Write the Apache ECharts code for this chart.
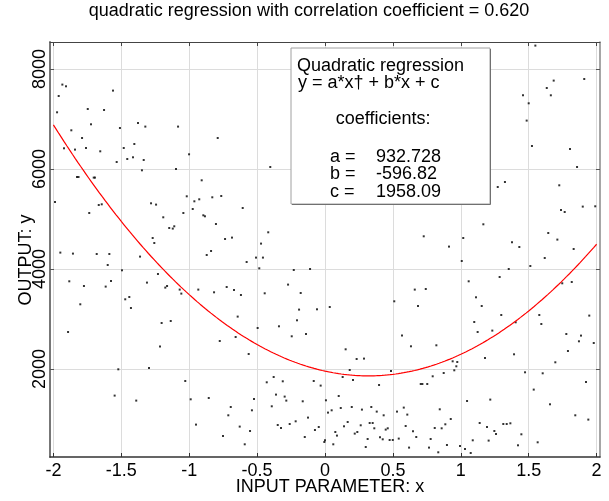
<!DOCTYPE html>
<html>
<head>
<meta charset="utf-8">
<script src="https://cdn.jsdelivr.net/npm/echarts@6/dist/echarts.min.js"></script>
<style>
  html, body { margin: 0; padding: 0; background: #fff; }
  #chart { width: 609px; height: 501px; }
</style>
</head>
<body>
<div id="chart"></div>
<script>
// Tick positions
const xTicks = [-2, -1.5, -1, -0.5, 0, 0.5, 1, 1.5, 2];
const yTicks = [2000, 4000, 6000, 8000];

// Observations: input parameter x and output y
const xs = [
  -1.934, -1.907, -1.961, -1.561, -1.973, -1.747, -1.627, -1.723, -1.377, -1.323,
  -1.082, -1.510, -1.868, -1.789, -1.404, -1.922, -1.841, -1.760, -1.655, -1.482,
  -1.456, -1.414, -1.335, -1.534, -1.001, -1.348, -1.097, -1.826, -1.815, -1.703,
  -1.694, -0.790, -0.403, -0.908, 1.549, 1.909, 1.684, 1.633, 1.458, 1.663,
  1.500, 1.485, 1.524, 1.804, 1.856, 1.325, 1.272, 1.725, -1.988, -1.736,
  -1.666, -1.644, -1.281, -1.244, -1.018, -0.962, -0.974, -0.926, -1.043, -1.191,
  -1.147, -1.121, -1.110, -1.269, -1.257, -1.949, -1.856, -1.681, -1.588, -1.362,
  -1.600, -1.495, -1.230, -1.883, -1.576, -1.311, -1.176, -1.775, -1.615, -1.163,
  -1.070, -1.058, -0.933, -1.471, -1.441, -1.429, -1.802, -1.203, -1.136, -1.892,
  -0.830, -0.764, -0.896, -0.884, -0.606, -0.803, -0.736, -0.685, -0.418, -0.471,
  -0.839, -0.871, -0.508, -0.457, -0.577, -0.484, -0.230, -0.110, -0.272, -0.817,
  -0.724, -0.670, -0.619, -0.444, -0.179, -0.191, -0.059, 0.035, 0.510, -0.643,
  -0.206, -0.496, -0.339, -0.140, -0.245, -0.658, 1.898, 1.990, 1.738, 1.765,
  1.166, 0.727, 1.018, 1.644, 1.711, 0.913, 1.377, 1.431, 1.831, 1.007,
  1.618, 1.512, 1.353, 1.286, 1.058, 1.747, 1.817, 0.661, 0.742, 1.112,
  0.685, 1.154, 1.298, 1.578, 1.946, 1.099, 1.404, 1.593, 1.124, 1.232,
  1.777, 1.885, 0.567, -1.215, -1.296, -1.522, -1.029, -1.549, -1.390, -0.989,
  -0.950, -0.775, -0.562, 0.152, 0.233, 0.287, 0.182, 0.486, 0.130, 0.206,
  -0.378, -0.429, -0.311, -0.083, -0.032, 0.398, -0.856, -0.361, -0.297, -0.285,
  -0.164, -0.523, 0.101, 0.007, -0.694, -0.392, -0.538, -0.712, 0.197, 0.272,
  0.341, 0.116, 0.049, 0.022, 0.381, 0.432, 0.530, -0.125, -0.348, -0.324,
  -0.260, -0.216, 0.167, 0.140, 0.263, 0.329, 0.351, 0.363, 0.447, 0.462,
  -0.046, -0.074, -0.628, -0.552, 0.076, 0.088, 0.219, 0.238, -0.149, -0.751,
  0.314, 0.405, 0.425, 0.476, 0.499, 0.543, 0.000, -0.005, 0.061, -0.591,
  0.300, 1.870, 1.979, 0.633, 0.820, 1.789, 1.392, 1.178, 1.696, 0.940,
  0.974, 0.967, 0.952, 0.874, 0.793, 1.473, 1.603, 0.705, 0.717, 0.753,
  1.922, 1.537, 1.046, 1.217, 1.657, 0.580, 0.606, 0.845, 0.926, 0.886,
  0.859, 0.808, 1.843, 1.939, 1.139, 1.193, 1.313, 1.338, 1.365, 0.594,
  0.648, 1.247, 1.259, 1.446, 0.672, 0.778, 1.088, 1.205, 1.566, 0.898,
  1.421, 0.619, 0.766, 0.994, 1.031, 1.073, 0.834
];
const ys = [
  7688, 7654, 7460, 7568, 7134, 7200, 7180, 6894, 6920, 6848,
  6848, 6820, 6774, 6620, 6500, 6414, 6388, 6420, 6354, 6420,
  6200, 6234, 6180, 6140, 6294, 5974, 6000, 5840, 5840, 5828,
  5828, 6620, 6040, 5774, 8468, 7800, 7768, 7620, 7474, 7474,
  7314, 6968, 6460, 6400, 6040, 5740, 5640, 5674, 5340, 5120,
  5280, 5294, 5314, 5288, 5454, 5354, 5200, 5394, 5120, 5034,
  4820, 4808, 4854, 4620, 4520, 4328, 4308, 4300, 4300, 4248,
  4080, 3974, 3900, 3754, 3760, 3728, 3628, 3660, 3648, 3660,
  3588, 3508, 3588, 3394, 3440, 3220, 3294, 2920, 2960, 2740,
  5434, 5460, 5074, 5054, 5220, 4900, 4600, 4628, 4734, 4508,
  4360, 4280, 4228, 4228, 4140, 4014, 3980, 4000, 3688, 3534,
  3640, 3580, 3480, 3514, 3520, 3188, 3194, 3240, 3354, 3048,
  2974, 2820, 2854, 2700, 2654, 2640, 5248, 5254, 5180, 5140,
  4894, 4654, 4620, 4720, 4588, 4448, 4534, 4440, 4400, 4160,
  4220, 4060, 4000, 3840, 3754, 3714, 3740, 3588, 3600, 3434,
  3260, 3260, 3080, 3080, 3068, 2940, 2934, 2900, 2740, 2768,
  2700, 2668, 2668, 2448, 2020, 1994, 1760, 1468, 1368, 1394,
  888, 2560, 2300, 2394, 2200, 2208, 1980, 1960, 1840, 1780,
  1840, 1734, 1754, 1760, 1668, 1680, 1420, 1488, 1448, 1368,
  1354, 1400, 1460, 1374, 1240, 1254, 1174, 1074, 1240, 1188,
  1240, 1220, 1174, 1128, 1148, 1074, 1148, 1028, 880, 820,
  900, 954, 940, 854, 874, 920, 920, 814, 788, 814,
  840, 780, 848, 760, 740, 668, 708, 740, 640, 660,
  600, 634, 594, 580, 580, 608, 574, 540, 494, 494,
  440, 2554, 2520, 2454, 2474, 2360, 2294, 2220, 2134, 2154,
  2140, 2054, 1974, 1920, 1854, 1934, 1914, 1700, 1700, 1700,
  1740, 1588, 1360, 1388, 1294, 1228, 1088, 1194, 1000, 894,
  814, 820, 1074, 988, 920, 840, 900, 900, 914, 860,
  754, 760, 700, 694, 640, 600, 574, 568, 534, 480,
  474, 428, 428, 460, 400, 320, 334
];

// Fitted quadratic y = a*x^2 + b*x + c
const coefNames = ['a', 'b', 'c'];
const coefValues = [932.728, -596.82, 1958.09];
const coefLabels = ['932.728', '-596.82', '1958.09'];

const FONT = '"Liberation Sans", Arial, sans-serif';

const points = xs.map((x, i) => [x, ys[i]]);
const fitCurve = [];
for (let i = 0; i <= 200; i++) {
  const x = -2 + i * 0.02;
  fitCurve.push([x, coefValues[0] * x * x + coefValues[1] * x + coefValues[2]]);
}

const X_MIN = -2.025, X_MAX = 2.025, Y_MIN = 240, Y_MAX = 8540;

const chart = echarts.init(document.getElementById('chart'), null, { renderer: 'canvas' });

const legendText = (text, x, y) => ({
  type: 'text', z: 101, x: x, y: y,
  style: { text: text, fill: '#000', font: '18px ' + FONT, align: 'left', verticalAlign: 'middle' }
});

const coefRows = [];
coefNames.forEach((n, i) => {
  const y = 156.7 + i * 17.5;
  coefRows.push(legendText(n + ' =', 330, y));
  coefRows.push(legendText(coefLabels[i], 376, y));
});

chart.setOption({
  animation: false,
  backgroundColor: '#fff',
  grid: { left: 50, right: 9, top: 42, bottom: 44, containLabel: false },
  xAxis: [
    {
      type: 'value', min: X_MIN, max: X_MAX, position: 'bottom',
      axisLine: { show: true, onZero: false, lineStyle: { color: '#333', width: 1.5 } },
      axisTick: { show: true, inside: true, length: 4, customValues: xTicks, lineStyle: { color: '#333' } },
      axisLabel: { customValues: xTicks, formatter: v => String(v), fontSize: 18, fontFamily: FONT, color: '#000', margin: 5 },
      splitLine: { show: true, lineStyle: { color: '#dcdcdc', width: 1 } }
    },
    {
      type: 'value', min: X_MIN, max: X_MAX, position: 'top',
      axisLine: { show: true, onZero: false, lineStyle: { color: '#444', width: 1 } },
      axisTick: { show: true, inside: true, length: 4, customValues: xTicks, lineStyle: { color: '#444' } },
      axisLabel: { show: false },
      splitLine: { show: false }
    }
  ],
  yAxis: [
    {
      type: 'value', min: Y_MIN, max: Y_MAX, position: 'left',
      axisLine: { show: true, onZero: false, lineStyle: { color: '#777', width: 2 } },
      axisTick: { show: true, inside: true, length: 4, customValues: yTicks, lineStyle: { color: '#555' } },
      axisLabel: { customValues: yTicks, formatter: v => String(v), rotate: 90, fontSize: 18, fontFamily: FONT, color: '#000', margin: 1 },
      splitLine: { show: true, lineStyle: { color: '#dcdcdc', width: 1 } }
    },
    {
      type: 'value', min: Y_MIN, max: Y_MAX, position: 'right',
      axisLine: { show: true, onZero: false, lineStyle: { color: '#888', width: 1.5 } },
      axisTick: { show: true, inside: true, length: 4, customValues: yTicks, lineStyle: { color: '#555' } },
      axisLabel: { show: false },
      splitLine: { show: false }
    }
  ],
  series: [
    {
      type: 'scatter', xAxisIndex: 0, yAxisIndex: 0, data: points,
      symbol: 'rect', symbolSize: 2, itemStyle: { color: '#000' }, silent: true, z: 2
    },
    {
      type: 'line', xAxisIndex: 0, yAxisIndex: 0, data: fitCurve,
      showSymbol: false, symbol: 'none', smooth: false,
      lineStyle: { color: '#ff0000', width: 1.2 }, silent: true, z: 3
    }
  ],
  graphic: [
    {
      type: 'text', z: 100, x: 309, y: 10.7,
      style: { text: 'quadratic regression with correlation coefficient = 0.620', fill: '#000',
               font: '18px ' + FONT, align: 'center', verticalAlign: 'middle' }
    },
    {
      type: 'text', z: 100, x: 330, y: 487.3,
      style: { text: 'INPUT PARAMETER: x', fill: '#000', font: '18px ' + FONT, align: 'center', verticalAlign: 'middle' }
    },
    {
      type: 'text', z: 100, x: 26, y: 260, rotation: Math.PI / 2,
      style: { text: 'OUTPUT: y', fill: '#000', font: '18px ' + FONT, align: 'center', verticalAlign: 'middle' }
    },
    {
      type: 'rect', z: 100, shape: { x: 291, y: 48, width: 199, height: 156 },
      style: { fill: '#fff', stroke: '#a0a0a0', lineWidth: 1 }
    },
    {
      type: 'polyline', z: 100, shape: { points: [[490.5, 49], [490.5, 204.5], [292, 204.5]] },
      style: { stroke: '#707070', lineWidth: 1, fill: null }
    },
    legendText('Quadratic regression', 297, 66),
    legendText('y = a*x\u2020 + b*x + c', 298, 82.7),
    legendText('coefficients:', 335.7, 119.3)
  ].concat(coefRows)
});
</script>
</body>
</html>
